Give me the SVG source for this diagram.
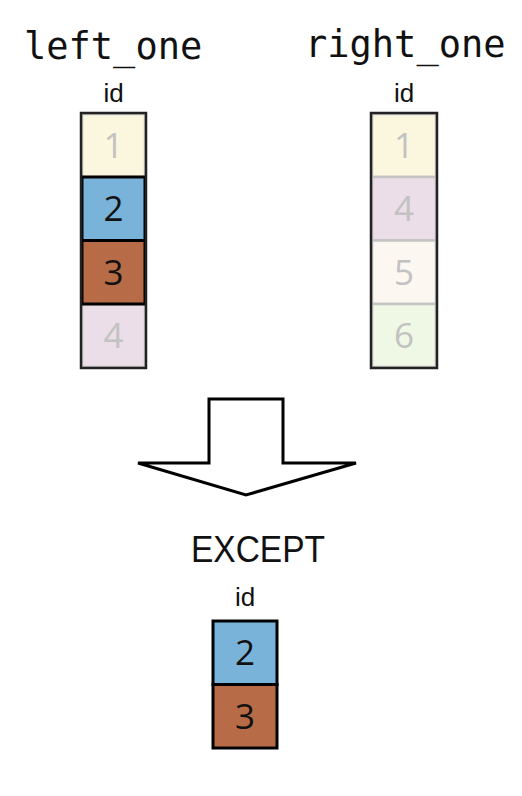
<svg xmlns="http://www.w3.org/2000/svg" width="522" height="796" viewBox="0 0 522 796">
<style>
.title{font-family:"DejaVu Sans Mono",monospace;font-size:37px;fill:#111}
.lbl{font-family:"Liberation Sans",Arial,sans-serif;font-size:26px;fill:#111;text-anchor:middle}
.num{font-family:"Open Sans","Noto Sans",sans-serif;font-size:35px;text-anchor:middle}
.dim{fill:#c2c2c2}
.hi{fill:#111}
.gc{stroke:#c4c4c4;stroke-width:2.5}
.bc{stroke:#000;stroke-width:3}
.outer{fill:none;stroke:#222;stroke-width:2.5}
</style>
<rect width="522" height="796" fill="#fff"/>
<g id="left_one">
<text class="title" x="24" y="59">left_one</text>
<text class="lbl" x="113.5" y="102">id</text>
<rect class="gc" x="82" y="114" width="63" height="63" fill="#fbf7de"/>
<rect class="gc" x="82" y="304" width="63" height="63" fill="#ebdee8"/>
<rect class="bc" x="82" y="177" width="63" height="63.5" fill="#7ab3da"/>
<rect class="bc" x="82" y="240.5" width="63" height="63.5" fill="#b86b47"/>
<rect class="outer" x="81" y="113" width="65" height="255"/>
<text class="num dim" x="113.5" y="158">1</text>
<text class="num hi" x="113.5" y="221">2</text>
<text class="num hi" x="113.5" y="285">3</text>
<text class="num dim" x="113.5" y="348">4</text>
</g>
<g id="right_one">
<text class="title" x="305" y="57">right_one</text>
<text class="lbl" x="404" y="102">id</text>
<rect class="gc" x="372" y="114" width="64" height="63" fill="#fbf7de"/>
<rect class="gc" x="372" y="177" width="64" height="63.5" fill="#ebdee8"/>
<rect class="gc" x="372" y="240.5" width="64" height="63.5" fill="#fcf7f0"/>
<rect class="gc" x="372" y="304" width="64" height="63" fill="#eff8e4"/>
<rect class="outer" x="371" y="113" width="66" height="255"/>
<text class="num dim" x="404" y="158">1</text>
<text class="num dim" x="404" y="221">4</text>
<text class="num dim" x="404" y="285">5</text>
<text class="num dim" x="404" y="348">6</text>
</g>
<g id="connectors">
<polygon points="209,399 283,399 283,463 356,463 246,495 138,463 209,463" fill="#fff" stroke="#000" stroke-width="3" stroke-linejoin="miter"/>
</g>
<g id="except">
<text x="191" y="562" font-family="Liberation Sans, Arial, sans-serif" font-size="36" fill="#111" textLength="134" lengthAdjust="spacingAndGlyphs">EXCEPT</text>
<text class="lbl" x="245" y="606">id</text>
<rect class="bc" x="213" y="621" width="64" height="63.5" fill="#7ab3da"/>
<rect class="bc" x="213" y="684.5" width="64" height="63.5" fill="#b86b47"/>
<text class="num hi" x="245" y="665">2</text>
<text class="num hi" x="245" y="729">3</text>
</g>
</svg>
